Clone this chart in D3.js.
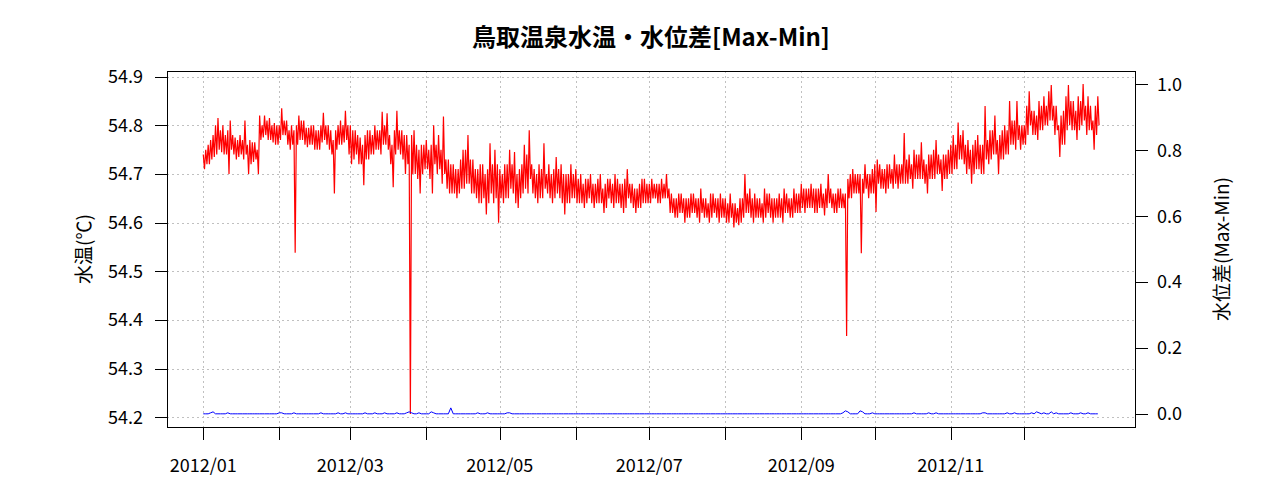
<!DOCTYPE html>
<html><head><meta charset="utf-8">
<script src="https://cdn.jsdelivr.net/npm/d3@7"></script>
<style>
body{margin:0;background:#fff}
svg{display:block}
text{font-family:"Noto Sans CJK JP","DejaVu Sans",sans-serif;fill:#000}
</style>
</head><body>
<svg id="c" width="1280" height="500"></svg>
<script>
const title = "鳥取温泉水温・水位差[Max-Min]";
const yLeftLabel = "水温(℃)";
const yRightLabel = "水位差(Max-Min)";
const leftTicks = [54.2, 54.3, 54.4, 54.5, 54.6, 54.7, 54.8, 54.9];
const rightTicks = [0.0, 0.2, 0.4, 0.6, 0.8, 1.0];
const monthTicks = ["2012-01-01","2012-02-01","2012-03-01","2012-04-01","2012-05-01","2012-06-01",
                    "2012-07-01","2012-08-01","2012-09-01","2012-10-01","2012-11-01","2012-12-01"];
const monthLabels = ["2012/01","","2012/03","","2012/05","","2012/07","","2012/09","","2012/11",""];
const startDate = "2012-01-01";

// daily maximum water temperature (°C), Jan 1 .. Dec 31 2012
const tempMax = [
 // Jan
 54.74,54.75,54.76,54.77,54.78,54.80,54.815,54.79,54.80,54.78,54.79,54.81,54.78,54.775,54.77,54.78,
 54.77,54.81,54.76,54.77,54.765,54.765,54.75,54.82,54.80,54.82,54.81,54.815,54.80,54.805,54.80,
 // Feb
 54.80,54.835,54.81,54.81,54.79,54.80,54.79,54.80,54.82,54.81,54.81,54.795,54.795,54.80,54.80,
 54.79,54.79,54.80,54.826,54.80,54.80,54.79,54.77,54.79,54.80,54.81,54.80,54.83,54.80,
 // Mar
 54.80,54.79,54.79,54.78,54.775,54.76,54.78,54.79,54.79,54.78,54.80,54.79,54.79,54.828,54.80,54.825,
 54.78,54.76,54.79,54.83,54.79,54.79,54.78,54.78,54.76,54.78,54.79,54.76,54.75,54.76,54.76,
 // Apr
 54.77,54.75,54.76,54.80,54.76,54.78,54.75,54.818,54.73,54.73,54.72,54.72,54.71,54.71,54.73,
 54.75,54.75,54.78,54.73,54.73,54.71,54.71,54.72,54.72,54.70,54.71,54.763,54.72,54.75,54.72,
 // May
 54.71,54.70,54.72,54.72,54.75,54.72,54.745,54.70,54.71,54.72,54.76,54.74,54.79,54.72,54.71,54.70,
 54.72,54.71,54.763,54.70,54.72,54.70,54.71,54.735,54.71,54.72,54.70,54.70,54.70,54.72,54.70,
 // Jun
 54.71,54.69,54.70,54.68,54.69,54.69,54.70,54.68,54.68,54.69,54.70,54.67,54.68,54.69,54.69,
 54.68,54.70,54.69,54.68,54.68,54.69,54.71,54.68,54.68,54.67,54.67,54.68,54.69,54.69,54.68,
 // Jul
 54.68,54.69,54.68,54.68,54.68,54.69,54.68,54.70,54.67,54.66,54.65,54.65,54.66,54.66,54.65,54.65,
 54.65,54.66,54.66,54.65,54.65,54.67,54.65,54.65,54.64,54.66,54.66,54.65,54.65,54.66,54.65,
 // Aug
 54.65,54.64,54.66,54.64,54.64,54.63,54.65,54.65,54.70,54.66,54.67,54.65,54.66,54.65,54.65,54.64,
 54.67,54.66,54.66,54.65,54.65,54.65,54.66,54.65,54.67,54.66,54.65,54.65,54.67,54.66,54.66,
 // Sep
 54.68,54.67,54.67,54.67,54.68,54.67,54.67,54.67,54.68,54.66,54.67,54.70,54.67,54.66,54.66,
 54.67,54.67,54.66,54.66,54.69,54.70,54.71,54.70,54.70,54.70,54.69,54.72,54.70,54.70,54.71,
 // Oct
 54.72,54.73,54.72,54.71,54.71,54.72,54.72,54.71,54.74,54.72,54.72,54.72,54.784,54.73,54.74,54.72,
 54.75,54.74,54.74,54.765,54.73,54.72,54.74,54.74,54.75,54.77,54.74,54.73,54.74,54.74,54.75,
 // Nov
 54.76,54.78,54.76,54.806,54.78,54.79,54.76,54.77,54.75,54.76,54.77,54.78,54.76,54.76,54.84,
 54.77,54.79,54.79,54.82,54.77,54.78,54.79,54.80,54.79,54.85,54.81,54.81,54.85,54.80,54.80,
 // Dec
 54.80,54.84,54.87,54.83,54.83,54.82,54.85,54.84,54.86,54.84,54.87,54.883,54.84,54.84,54.80,54.82,
 54.83,54.86,54.883,54.85,54.85,54.83,54.86,54.85,54.885,54.84,54.86,54.84,54.81,54.84,54.86
];

// daily minimum water temperature (°C)
const tempMin = [
 // Jan
 54.71,54.72,54.72,54.73,54.735,54.74,54.75,54.745,54.74,54.74,54.70,54.75,54.74,54.73,54.735,54.74,
 54.73,54.74,54.70,54.72,54.725,54.73,54.70,54.77,54.775,54.78,54.77,54.77,54.765,54.76,54.76,
 // Feb
 54.77,54.78,54.78,54.76,54.75,54.76,54.538,54.76,54.77,54.77,54.76,54.755,54.76,54.76,54.75,
 54.75,54.75,54.765,54.77,54.76,54.75,54.74,54.66,54.75,54.76,54.76,54.765,54.77,54.74,
 // Mar
 54.72,54.73,54.74,54.72,54.72,54.677,54.73,54.73,54.74,54.74,54.75,54.75,54.74,54.76,54.76,54.75,
 54.72,54.673,54.74,54.75,54.74,54.73,54.70,54.72,54.207,54.70,54.70,54.69,54.66,54.70,54.71,
 // Apr
 54.71,54.69,54.66,54.72,54.70,54.71,54.68,54.70,54.67,54.66,54.66,54.66,54.65,54.66,54.67,
 54.67,54.68,54.68,54.66,54.66,54.65,54.64,54.64,54.65,54.617,54.64,54.66,54.64,54.65,54.60,
 // May
 54.65,54.64,54.65,54.65,54.67,54.66,54.64,54.63,54.65,54.66,54.67,54.66,54.69,54.66,54.65,54.64,
 54.65,54.65,54.67,54.66,54.65,54.64,54.65,54.66,54.65,54.64,54.617,54.64,54.64,54.65,54.65,
 // Jun
 54.64,54.64,54.64,54.63,54.64,54.65,54.64,54.63,54.64,54.64,54.64,54.62,54.63,54.65,54.64,
 54.63,54.64,54.64,54.63,54.62,54.63,54.65,54.64,54.63,54.62,54.63,54.63,54.64,54.64,54.64,
 // Jul
 54.64,54.65,54.65,54.64,54.64,54.65,54.65,54.65,54.62,54.62,54.61,54.61,54.62,54.62,54.60,54.61,
 54.61,54.62,54.62,54.61,54.60,54.62,54.61,54.61,54.60,54.61,54.62,54.61,54.60,54.61,54.61,
 // Aug
 54.60,54.60,54.61,54.59,54.60,54.595,54.60,54.61,54.62,54.62,54.61,54.60,54.61,54.61,54.61,54.60,
 54.61,54.62,54.61,54.60,54.61,54.61,54.61,54.60,54.62,54.62,54.61,54.61,54.62,54.62,54.62,
 // Sep
 54.63,54.62,54.63,54.63,54.63,54.62,54.62,54.63,54.63,54.615,54.63,54.64,54.63,54.62,54.62,
 54.63,54.63,54.63,54.367,54.65,54.65,54.66,54.66,54.66,54.537,54.66,54.67,54.65,54.66,54.66,
 // Oct
 54.622,54.68,54.67,54.67,54.66,54.67,54.68,54.67,54.68,54.67,54.68,54.68,54.68,54.68,54.69,54.67,
 54.69,54.69,54.69,54.69,54.68,54.66,54.69,54.69,54.69,54.70,54.70,54.665,54.69,54.69,54.70,
 // Nov
 54.70,54.71,54.71,54.73,54.73,54.72,54.70,54.71,54.68,54.70,54.71,54.71,54.70,54.70,54.73,
 54.72,54.73,54.74,54.74,54.70,54.73,54.73,54.74,54.74,54.76,54.76,54.75,54.77,54.75,54.76,
 // Dec
 54.76,54.78,54.80,54.78,54.78,54.77,54.79,54.79,54.80,54.80,54.81,54.81,54.78,54.79,54.735,54.76,
 54.76,54.79,54.80,54.79,54.79,54.77,54.79,54.80,54.81,54.78,54.79,54.79,54.75,54.78,54.80
];

// daily water level difference (Max-Min)
const level = [
 // Jan
 0,0,0,.003,.006,0,0,0,0,0,.003,0,0,0,0,0,0,0,0,0,0,0,0,0,0,0,0,0,0,0,0,
 // Feb
 .003,.003,0,0,0,0,.003,0,0,0,0,0,0,0,0,0,0,.003,0,0,0,0,0,0,.003,0,0,.003,0,
 // Mar
 0,0,0,0,0,0,.003,0,0,0,.003,0,0,0,.003,0,0,0,0,.003,0,0,0,.003,.006,.003,0,0,.003,0,0,
 // Apr
 0,0,.006,.003,0,0,0,0,0,0,.018,0,0,0,0,0,0,0,0,0,0,.003,0,0,0,.003,0,0,0,0,
 // May
 0,0,0,.003,.003,0,0,0,0,0,0,0,0,0,0,0,0,0,0,0,0,0,0,0,0,0,0,0,0,0,0,
 // Jun
 0,0,0,0,0,0,0,0,0,0,0,0,0,0,0,0,0,0,0,0,0,0,0,0,0,0,0,0,0,0,
 // Jul
 0,0,0,0,0,0,0,0,0,0,0,0,0,0,0,0,0,0,0,0,0,0,0,0,0,0,0,0,0,0,0,
 // Aug
 0,0,0,0,0,0,0,0,0,0,0,0,0,0,0,0,0,0,0,0,0,0,0,0,0,0,0,0,0,0,0,
 // Sep
 0,0,0,0,0,0,0,0,0,0,0,0,0,0,0,0,0,.003,.009,.006,0,0,0,0,.009,.006,0,0,0,.003,
 // Oct
 0,0,0,0,0,0,0,0,0,0,0,0,0,0,0,0,.003,0,0,0,0,0,.003,0,0,.003,0,0,0,0,0,
 // Nov
 0,0,0,0,0,0,0,0,0,0,0,0,0,.003,.003,0,0,0,0,0,0,0,0,.003,0,0,.003,0,0,0,
 // Dec
 0,0,0,.003,0,.006,.003,0,.003,0,0,.006,0,.003,0,0,0,0,0,.003,0,0,0,.003,0,0,.003,0,0,0,0
];

const svg = d3.select("#c");
const L = 167, R = 1135, T = 71, B = 427;
const DAY = 864e5;
const t0 = Date.parse(startDate + "T00:00:00Z");

const x = d3.scaleUtc()
  .domain([new Date(t0 - 14.8 * DAY), new Date(Date.parse("2012-12-01T00:00:00Z") + 45.17 * DAY)])
  .range([L, R]);
const yL = d3.scaleLinear().domain([54.1801, 54.9117]).range([B, T]);
const yR = d3.scaleLinear().domain([-0.04, 1.04]).range([B, T]);

const tickDates = monthTicks.map(s => new Date(s + "T00:00:00Z"));

// interleave each day's maximum (morning) and minimum (afternoon) reading
const tempPts = [];
tempMax.forEach((v, i) => {
  tempPts.push({t: new Date(t0 + i * DAY), v: v});
  tempPts.push({t: new Date(t0 + (i + 0.5) * DAY), v: tempMin[i]});
});
const levelPts = level.map((v, i) => ({t: new Date(t0 + i * DAY), v: v}));

// grid
const grid = svg.append("g").attr("stroke", "#c0c0c0").attr("stroke-width", 1).attr("stroke-dasharray", "2,3");
grid.selectAll("line.v").data(tickDates).join("line")
  .attr("x1", d => Math.round(x(d)) + 0.5).attr("x2", d => Math.round(x(d)) + 0.5)
  .attr("y1", T).attr("y2", B);
grid.selectAll("line.h").data(leftTicks).join("line")
  .attr("x1", L).attr("x2", R)
  .attr("y1", d => Math.round(yL(d)) + 0.5).attr("y2", d => Math.round(yL(d)) + 0.5);

// series
svg.append("path").datum(tempPts)
  .attr("fill", "none").attr("stroke", "#ff0000").attr("stroke-width", 1.2)
  .attr("d", d3.line().x(d => x(d.t)).y(d => yL(d.v)));
svg.append("path").datum(levelPts)
  .attr("fill", "none").attr("stroke", "#0000ff").attr("stroke-width", 1)
  .attr("d", d3.line().x(d => x(d.t)).y(d => yR(d.v)));

// box
svg.append("rect").attr("x", L + 0.5).attr("y", T + 0.5).attr("width", R - L).attr("height", B - T)
  .attr("fill", "none").attr("stroke", "#000").attr("stroke-width", 1);

// left axis
const gl = svg.append("g");
gl.selectAll("line").data(leftTicks).join("line")
  .attr("x1", L - 12).attr("x2", L)
  .attr("y1", d => Math.round(yL(d)) + 0.5).attr("y2", d => Math.round(yL(d)) + 0.5)
  .attr("stroke", "#000");
gl.selectAll("text").data(leftTicks).join("text")
  .attr("x", 143).attr("y", d => yL(d)).attr("dy", "0.36em")
  .attr("text-anchor", "end").attr("font-size", 18)
  .text(d => d3.format(".1f")(d));

// right axis
const gr = svg.append("g");
gr.selectAll("line").data(rightTicks).join("line")
  .attr("x1", R + 1).attr("x2", R + 13)
  .attr("y1", d => Math.round(yR(d)) + 0.5).attr("y2", d => Math.round(yR(d)) + 0.5)
  .attr("stroke", "#000");
gr.selectAll("text").data(rightTicks).join("text")
  .attr("x", 1157).attr("y", d => yR(d)).attr("dy", "0.36em")
  .attr("text-anchor", "start").attr("font-size", 18)
  .text(d => d3.format(".1f")(d));

// bottom axis
const gb = svg.append("g");
gb.selectAll("line").data(tickDates).join("line")
  .attr("x1", d => Math.round(x(d)) + 0.5).attr("x2", d => Math.round(x(d)) + 0.5)
  .attr("y1", B + 1).attr("y2", B + 13).attr("stroke", "#000");
gb.selectAll("text").data(tickDates).join("text")
  .attr("x", d => x(d)).attr("y", 472)
  .attr("text-anchor", "middle").attr("font-size", 18)
  .text((d, i) => monthLabels[i]);

// titles
svg.append("text").attr("x", (L + R) / 2).attr("y", 46).attr("text-anchor", "middle")
  .attr("font-size", 24).attr("font-weight", "bold").text(title);
svg.append("text").attr("transform", `translate(91,${(T + B) / 2}) rotate(-90)`)
  .attr("text-anchor", "middle").attr("font-size", 19).text(yLeftLabel);
svg.append("text").attr("transform", `translate(1229,${(T + B) / 2}) rotate(-90)`)
  .attr("text-anchor", "middle").attr("font-size", 19).text(yRightLabel);
</script>
</body></html>
